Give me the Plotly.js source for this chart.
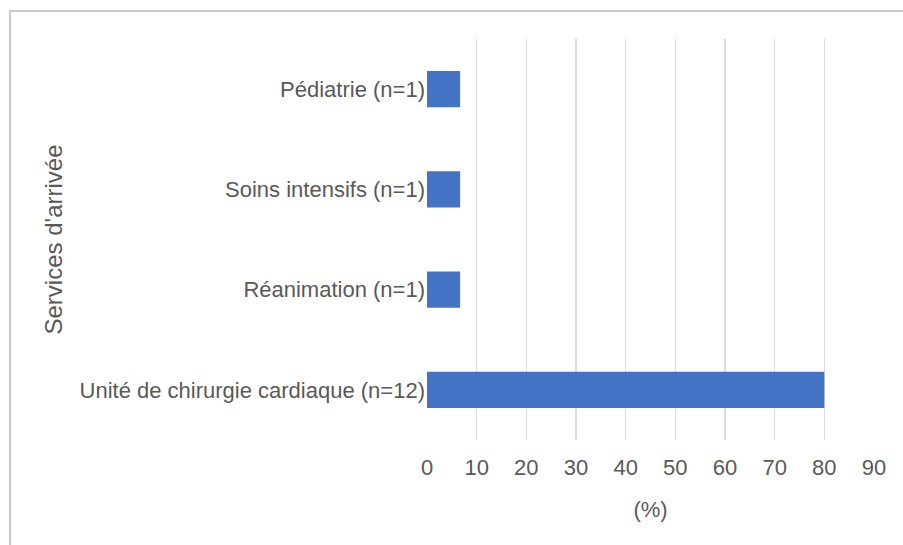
<!DOCTYPE html>
<html>
<head>
<meta charset="utf-8">
<script src="https://cdn.plot.ly/plotly-3.0.1.min.js"></script>
<style>
html,body{margin:0;padding:0;background:#fff;}
#wrap{position:relative;width:903px;height:545px;overflow:hidden;}
#frame{position:absolute;left:9px;top:10px;width:1000px;height:1000px;border-top:2px solid #c9c9c9;border-left:2px solid #c9c9c9;box-sizing:border-box;pointer-events:none;}
#chart{position:absolute;left:0;top:0;width:903px;height:545px;}
</style>
</head>
<body>
<div id="wrap">
<div id="chart"></div>
<div id="frame"></div>
</div>
<script>
// Categories listed bottom-to-top (Plotly draws the first category at the bottom)
const categories = [
  "Unité de chirurgie cardiaque (n=12)",
  "Réanimation (n=1)",
  "Soins intensifs (n=1)",
  "Pédiatrie (n=1)"
];
const percentages = [80, 6.67, 6.67, 6.67];
const xTickValues = [0, 10, 20, 30, 40, 50, 60, 70, 80, 90];
const xTitle = "(%)";
const yTitle = "Services d'arrivée";

const textColor = "#595959";
const fontFamily = "Liberation Sans, Arial, Helvetica, sans-serif";

const trace = {
  type: "bar",
  orientation: "h",
  x: percentages,
  y: categories,
  marker: {color: "#4472C4"},
  width: 0.36,
  hoverinfo: "none"
};

const layout = {
  width: 903,
  height: 545,
  margin: {l: 427, r: 29, t: 39, b: 105},
  paper_bgcolor: "#ffffff",
  plot_bgcolor: "#ffffff",
  showlegend: false,
  font: {family: fontFamily, size: 22, color: textColor},
  xaxis: {
    range: [0, 90],
    tickvals: xTickValues,
    ticktext: xTickValues.map(String),
    showgrid: true,
    gridcolor: "#dcdcdc",
    gridwidth: 1.5,
    zeroline: false,
    showline: false,
    ticks: "",
    ticklabelstandoff: 12,
    tickfont: {family: fontFamily, size: 22, color: textColor},
    title: {text: xTitle, standoff: 22, font: {family: fontFamily, size: 22, color: textColor}},
    fixedrange: true
  },
  yaxis: {
    type: "category",
    categoryorder: "array",
    categoryarray: categories,
    showgrid: false,
    zeroline: false,
    showline: false,
    ticks: "",
    ticklabelstandoff: 1,
    tickfont: {family: fontFamily, size: 22, color: textColor},
    title: {text: yTitle, standoff: 10, font: {family: fontFamily, size: 24, color: textColor}},
    automargin: false,
    fixedrange: true
  }
};

Plotly.newPlot("chart", [trace], layout, {displayModeBar: false, staticPlot: true});
</script>
</body>
</html>
